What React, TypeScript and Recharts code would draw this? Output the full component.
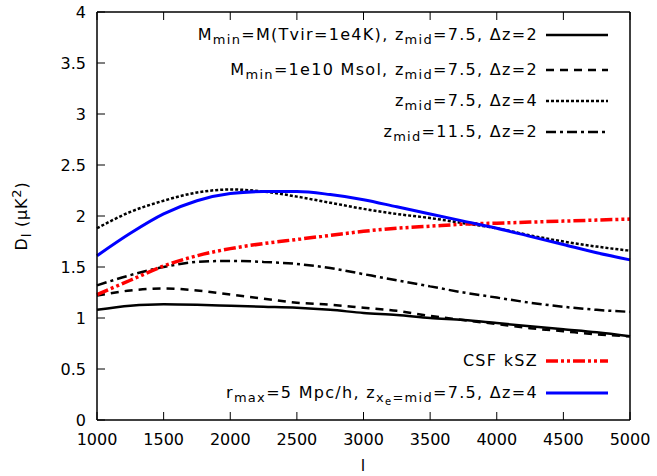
import React from "react";
import { LineChart, Line, XAxis, YAxis } from "recharts";

const ells = [1000, 1250, 1500, 1750, 2000, 2250, 2500, 2750, 3000, 3250, 3500, 3750, 4000, 4250, 4500, 4750, 5000];
const tvirVals = [1.08, 1.12, 1.135, 1.13, 1.12, 1.11, 1.1, 1.08, 1.05, 1.03, 1.0, 0.98, 0.95, 0.92, 0.89, 0.86, 0.82];
const msolVals = [1.22, 1.27, 1.29, 1.27, 1.23, 1.19, 1.15, 1.13, 1.1, 1.07, 1.02, 0.98, 0.94, 0.9, 0.87, 0.84, 0.82];
const dz4Vals = [1.88, 2.04, 2.15, 2.23, 2.26, 2.24, 2.19, 2.13, 2.07, 2.02, 1.98, 1.93, 1.88, 1.81, 1.75, 1.7, 1.66];
const z115Vals = [1.32, 1.42, 1.5, 1.55, 1.56, 1.55, 1.53, 1.49, 1.43, 1.37, 1.31, 1.25, 1.2, 1.15, 1.11, 1.08, 1.06];
const csfVals = [1.23, 1.37, 1.51, 1.61, 1.68, 1.73, 1.77, 1.81, 1.85, 1.88, 1.9, 1.92, 1.93, 1.94, 1.95, 1.96, 1.97];
const rmaxVals = [1.61, 1.83, 2.02, 2.15, 2.22, 2.24, 2.24, 2.21, 2.16, 2.09, 2.02, 1.95, 1.88, 1.8, 1.72, 1.64, 1.57];

const xTicks = [1000, 1500, 2000, 2500, 3000, 3500, 4000, 4500, 5000];
const yTicks = [0, 0.5, 1, 1.5, 2, 2.5, 3, 3.5, 4];

const data = ells.map((l, i) => ({
  l,
  tvir: tvirVals[i],
  msol: msolVals[i],
  dz4: dz4Vals[i],
  z115: z115Vals[i],
  csf: csfVals[i],
  rmax: rmaxVals[i],
}));

const W = 657;
const H = 476;
const PLOT_LEFT = 97;
const PLOT_RIGHT = 630;
const PLOT_TOP = 12;
const PLOT_BOTTOM = 420;
const TICK = 8;
const FONT = "'DejaVu Sans', sans-serif";

const sub = (s: string) => (
  <span style={{ fontSize: 13, verticalAlign: -4 }}>{s}</span>
);

const series = [
  { key: "tvir", color: "#000", width: 2.5, dash: undefined as string | undefined, row: 35,
    label: <>M{sub("min")}=M(Tvir=1e4K), z{sub("mid")}=7.5, Δz=2</> },
  { key: "msol", color: "#000", width: 2.5, dash: "8 6", row: 70,
    label: <>M{sub("min")}=1e10 Msol, z{sub("mid")}=7.5, Δz=2</> },
  { key: "dz4", color: "#000", width: 2.5, dash: "3 2", row: 101,
    label: <>z{sub("mid")}=7.5, Δz=4</> },
  { key: "z115", color: "#000", width: 2.5, dash: "10 4 3 4", row: 132,
    label: <>z{sub("mid")}=11.5, Δz=2</> },
  { key: "csf", color: "#ff0000", width: 3.5, dash: "12 3 3 3 3 3", row: 361,
    label: <>CSF kSZ</> },
  { key: "rmax", color: "#0000ff", width: 3, dash: undefined, row: 393,
    label: <>r{sub("max")}=5 Mpc/h, z<span style={{ fontSize: 13, verticalAlign: -4 }}>x<span style={{ fontSize: 10, verticalAlign: -3 }}>e</span>=mid</span>=7.5, Δz=4</> },
];

const BottomTick = (props: any) => {
  const { x, payload } = props;
  return (
    <g>
      <line x1={x} x2={x} y1={PLOT_BOTTOM} y2={PLOT_BOTTOM - TICK} stroke="#000" />
      <text x={x} y={445} textAnchor="middle" fontSize={16} fontFamily={FONT} fill="#000">
        {payload.value}
      </text>
    </g>
  );
};

const TopTick = (props: any) => {
  const { x } = props;
  return <line x1={x} x2={x} y1={PLOT_TOP} y2={PLOT_TOP + TICK} stroke="#000" />;
};

const LeftTick = (props: any) => {
  const { y, payload } = props;
  return (
    <g>
      <line x1={PLOT_LEFT} x2={PLOT_LEFT + TICK} y1={y} y2={y} stroke="#000" />
      <text x={86} y={y + 6} textAnchor="end" fontSize={16} fontFamily={FONT} fill="#000">
        {payload.value}
      </text>
    </g>
  );
};

const RightTick = (props: any) => {
  const { y } = props;
  return <line x1={PLOT_RIGHT} x2={PLOT_RIGHT - TICK} y1={y} y2={y} stroke="#000" />;
};

const YLabel = () => (
  <text transform="translate(27,216) rotate(-90)" textAnchor="middle" fontSize={16} fontFamily={FONT} fill="#000" letterSpacing={0.8}>
    D<tspan fontSize={13} dy={4}>l</tspan>
    <tspan dy={-4}> (μK</tspan>
    <tspan fontSize={13} dy={-6}>2</tspan>
    <tspan dy={6}>)</tspan>
  </text>
);

const XLabel = () => (
  <text x={363} y={471} textAnchor="middle" fontSize={16} fontFamily={FONT} fill="#000">
    l
  </text>
);

export default function App() {
  return (
    <div style={{ position: "absolute", left: 0, top: 0, width: W, height: H, background: "#fff", fontFamily: FONT }}>
      <LineChart
        width={W}
        height={H}
        data={data}
        margin={{ top: PLOT_TOP - 10, right: W - PLOT_RIGHT - 10, bottom: H - PLOT_BOTTOM - 30, left: PLOT_LEFT - 60 }}
      >
        <XAxis
          xAxisId="bottom"
          dataKey="l"
          type="number"
          domain={[1000, 5000]}
          ticks={xTicks}
          height={30}
          tickLine={false}
          tick={<BottomTick />}
          axisLine={{ stroke: "#000", strokeWidth: 1.5 }}
          label={<XLabel />}
          interval={0}
        />
        <XAxis
          xAxisId="top"
          orientation="top"
          dataKey="l"
          type="number"
          domain={[1000, 5000]}
          ticks={xTicks}
          height={10}
          tickLine={false}
          tick={<TopTick />}
          axisLine={{ stroke: "#000", strokeWidth: 1.5 }}
          interval={0}
        />
        <YAxis
          yAxisId="left"
          type="number"
          domain={[0, 4]}
          ticks={yTicks}
          width={60}
          tickLine={false}
          tick={<LeftTick />}
          axisLine={{ stroke: "#000", strokeWidth: 1.5 }}
          label={<YLabel />}
          interval={0}
        />
        <YAxis
          yAxisId="right"
          orientation="right"
          type="number"
          domain={[0, 4]}
          ticks={yTicks}
          width={10}
          tickLine={false}
          tick={<RightTick />}
          axisLine={{ stroke: "#000", strokeWidth: 1.5 }}
          interval={0}
        />
        {series.map((s) => (
          <Line
            key={s.key}
            xAxisId="bottom"
            yAxisId="left"
            dataKey={s.key}
            type="monotone"
            stroke={s.color}
            strokeWidth={s.width}
            strokeDasharray={s.dash}
            dot={false}
            activeDot={false}
            isAnimationActive={false}
          />
        ))}
      </LineChart>
      {series.map((s) => (
        <div key={s.key} style={{ position: "absolute", top: s.row - 11, left: 0, width: W, height: 22, pointerEvents: "none" }}>
          <div style={{ position: "absolute", right: W - 538, top: 0, fontSize: 16, letterSpacing: 1.3, lineHeight: "22px", whiteSpace: "nowrap", color: "#000" }}>
            {s.label}
          </div>
          <svg style={{ position: "absolute", left: 545, top: 0 }} width={64} height={22}>
            <line x1={1} x2={63} y1={11} y2={11} stroke={s.color} strokeWidth={s.width} strokeDasharray={s.dash} />
          </svg>
        </div>
      ))}
    </div>
  );
}
